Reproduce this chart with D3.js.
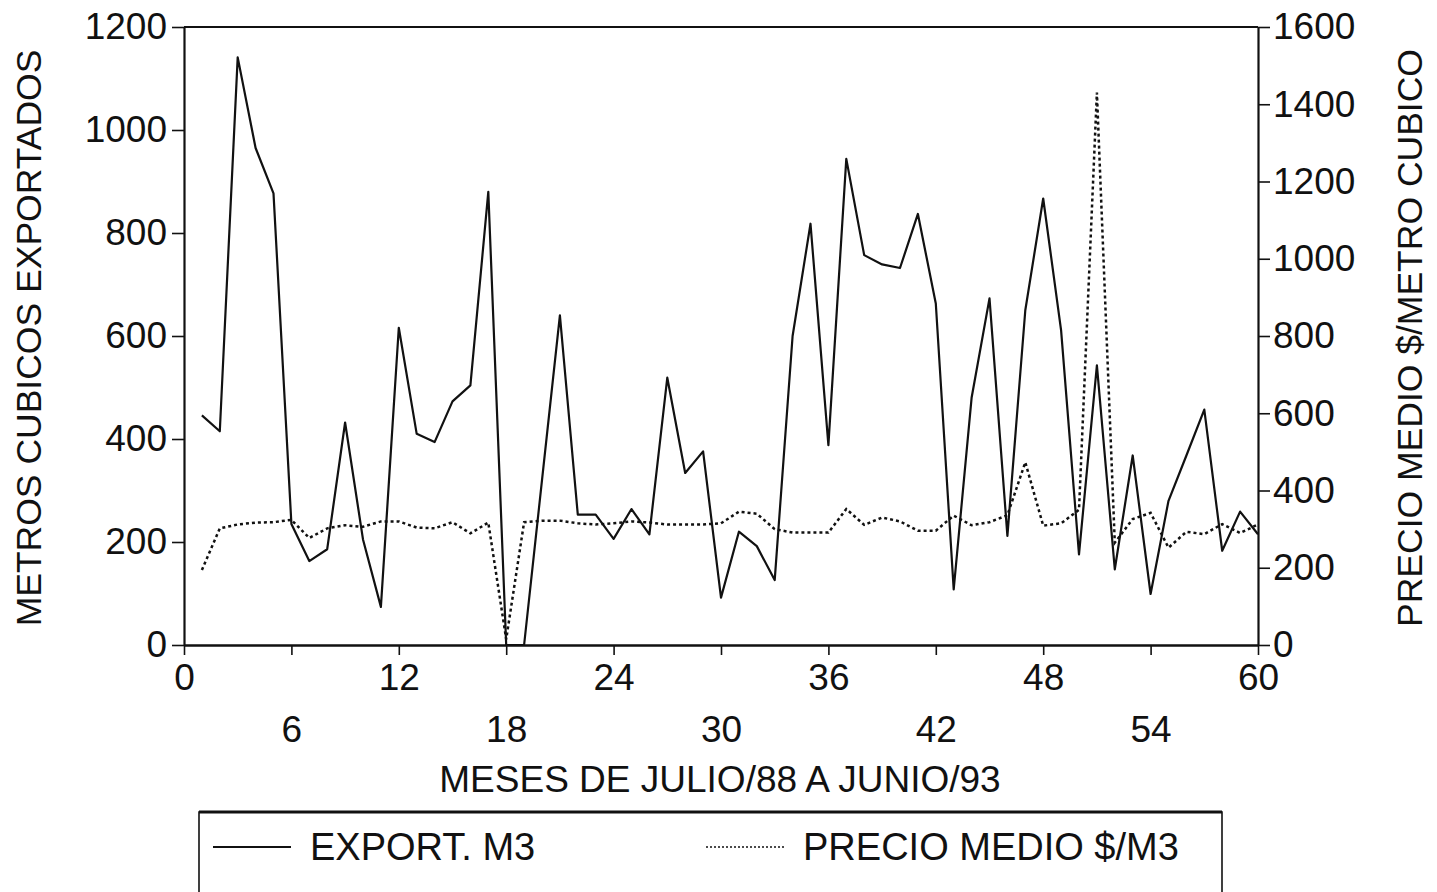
<!DOCTYPE html>
<html>
<head>
<meta charset="utf-8">
<script src="https://cdn.jsdelivr.net/npm/d3@7"></script>
<style>
    html, body { margin: 0; background: #fff; }
    svg text { font-family: "Liberation Sans", Arial, sans-serif; fill: #111; }
</style>
</head>
<body>
<svg id="chart" width="1437" height="892"></svg>
<script>
// monthly values, July/88 (month 1) to June/93 (month 60)
const exportM3 = [
    446, 415, 1141, 965, 877, 235, 163, 186, 432, 205,
    74, 616, 410, 394, 473, 504, 880, 0, 0, 320,
    640, 253, 253, 206, 264, 215, 519, 334, 376, 92,
    220, 192, 126, 600, 818, 388, 944, 757, 739, 732,
    837, 663, 108, 480, 673, 212, 650, 867, 611, 176,
    543, 147, 368, 99, 280, 368, 457, 183, 259, 215
];
const precioMedio = [
    194, 302, 312, 317, 318, 324, 277, 302, 310, 306,
    320, 320, 304, 302, 318, 289, 317, 15, 318, 322,
    322, 315, 312, 315, 320, 317, 312, 312, 312, 315,
    345, 340, 300, 291, 291, 291, 352, 311, 330, 320,
    296, 296, 335, 310, 318, 336, 473, 309, 315, 350,
    1430, 265, 326, 342, 252, 293, 287, 313, 290, 312
];
const months = exportM3.map((_, i) => i + 1);

const monthTicksUpper = [0, 12, 24, 36, 48, 60];
const monthTicksLower = [6, 18, 30, 42, 54];
const leftTicks = [0, 200, 400, 600, 800, 1000, 1200];
const rightTicks = [0, 200, 400, 600, 800, 1000, 1200, 1400, 1600];

const legendItems = [
    { label: "EXPORT. M3", dash: null },
    { label: "PRECIO MEDIO $/M3", dash: "2 2" }
];

(function drawChart() {
    const svg = d3.select("#chart");
    const plot = { left: 184, right: 1258, top: 27, bottom: 645 };
    const fontSize = 37;        // the scan is a little wider than tall
    const sideFontSize = 35.5;

    const x = d3.scaleLinear().domain([0, 60]).range([plot.left, plot.right]);
    const yLeft = d3.scaleLinear().domain([0, 1200]).range([plot.bottom, plot.top]);
    const yRight = d3.scaleLinear().domain([0, 1600]).range([plot.bottom, plot.top]);
    const plain = d3.format("d");

    function styleAxis(g) {
        g.selectAll("path.domain").attr("stroke", "#111").attr("stroke-width", 2.2);
        g.selectAll(".tick line").attr("stroke", "#111").attr("stroke-width", 1.6);
        g.selectAll(".tick text").attr("font-size", fontSize).attr("fill", "#111");
        g.attr("font-family", null);
    }

    // frame top edge
    svg.append("line")
        .attr("x1", plot.left).attr("x2", plot.right)
        .attr("y1", plot.top).attr("y2", plot.top)
        .attr("stroke", "#111").attr("stroke-width", 2);

    svg.append("g")
        .attr("transform", `translate(${plot.left},0)`)
        .call(d3.axisLeft(yLeft).tickValues(leftTicks).tickFormat(plain)
            .tickSize(12).tickSizeOuter(0).tickPadding(5))
        .call(styleAxis);

    svg.append("g")
        .attr("transform", `translate(${plot.right},0)`)
        .call(d3.axisRight(yRight).tickValues(rightTicks).tickFormat(plain)
            .tickSize(12).tickSizeOuter(0).tickPadding(3))
        .call(styleAxis);

    svg.append("g")
        .attr("transform", `translate(0,${plot.bottom})`)
        .call(d3.axisBottom(x).tickValues(monthTicksUpper).tickFormat(plain)
            .tickSize(10).tickSizeOuter(0).tickPadding(9))
        .call(styleAxis);

    svg.append("g")
        .attr("transform", `translate(0,${plot.bottom})`)
        .call(d3.axisBottom(x).tickValues(monthTicksLower).tickFormat(plain)
            .tickSize(10).tickSizeOuter(0).tickPadding(61))
        .call(styleAxis);

    // axis titles
    svg.append("text")
        .attr("x", (plot.left + plot.right) / 2 - 1)
        .attr("y", 792)
        .attr("text-anchor", "middle")
        .attr("font-size", fontSize)
        .text("MESES DE JULIO/88 A JUNIO/93");

    svg.append("text")
        .attr("transform", `translate(41,338) rotate(-90)`)
        .attr("text-anchor", "middle")
        .attr("font-size", sideFontSize)
        .text("METROS CUBICOS EXPORTADOS");

    svg.append("text")
        .attr("transform", `translate(1422,338) rotate(-90)`)
        .attr("text-anchor", "middle")
        .attr("font-size", sideFontSize)
        .text("PRECIO MEDIO $/METRO CUBICO");

    // series
    const exportLine = d3.line()
        .x((d, i) => x(months[i]))
        .y(d => yLeft(d));
    const priceLine = d3.line()
        .x((d, i) => x(months[i]))
        .y(d => yRight(d));

    svg.append("path")
        .datum(precioMedio)
        .attr("d", priceLine)
        .attr("fill", "none")
        .attr("stroke", "#111")
        .attr("stroke-width", 2.5)
        .attr("stroke-dasharray", "3 3");

    svg.append("path")
        .datum(exportM3)
        .attr("d", exportLine)
        .attr("fill", "none")
        .attr("stroke", "#111")
        .attr("stroke-width", 2.2)
        .attr("stroke-linejoin", "round");

    // legend box, cut off by the page edge like the scan
    const legend = svg.append("g").attr("class", "legend");
    legend.append("path")
        .attr("d", `M199,900 V812 H1222 V900`)
        .attr("fill", "none")
        .attr("stroke", "#111")
        .attr("stroke-width", 1.6);
    legend.append("line")
        .attr("x1", 199).attr("x2", 1222)
        .attr("y1", 812).attr("y2", 812)
        .attr("stroke", "#111").attr("stroke-width", 3);

    const legendX = [213, 706];
    legendItems.forEach((item, i) => {
        legend.append("line")
            .attr("x1", legendX[i]).attr("x2", legendX[i] + 78)
            .attr("y1", 847).attr("y2", 847)
            .attr("stroke", "#111")
            .attr("stroke-width", item.dash ? 1.4 : 1.8)
            .attr("stroke-dasharray", item.dash);
        legend.append("text")
            .attr("x", legendX[i] + 97)
            .attr("y", 860)
            .attr("font-size", 38)
            .text(item.label);
    });
})();
</script>
</body>
</html>
